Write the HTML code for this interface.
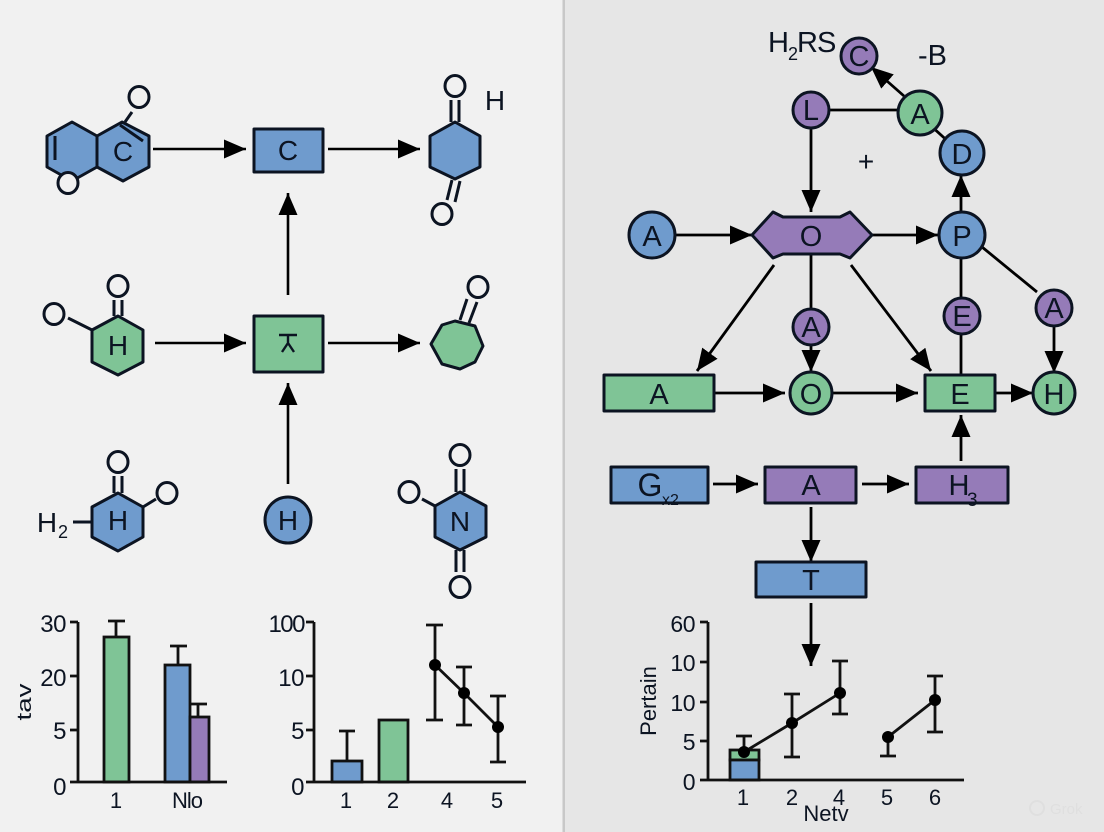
<!DOCTYPE html>
<html><head><meta charset="utf-8"><style>
html,body{margin:0;padding:0;background:#f0f0f0}
svg{display:block}
text{font-family:"Liberation Sans",sans-serif;fill:#0c1422}
</style></head><body>
<svg width="1104" height="832" viewBox="0 0 1104 832" xmlns="http://www.w3.org/2000/svg">
<defs>
<marker id="a" markerUnits="userSpaceOnUse" markerWidth="24" markerHeight="22" refX="22" refY="11" orient="auto"><path d="M0 1.5L22 11L0 20.5Z" fill="#000"/></marker>
</defs>
<rect width="564" height="832" fill="#f1f1f1"/>
<rect x="564" width="540" height="832" fill="#e6e6e6"/>
<rect x="562.5" width="2.5" height="832" fill="#c8c8c8"/>

<!-- molecules left -->
<g stroke="#0c1422" stroke-width="3" stroke-linejoin="round" fill="#6f9bcd">
<path d="M72 122L97 136L97 167L72 181L47 167L47 136Z"/>
<path d="M97 136L122 122L149 136L149 167L123 181L97 167Z"/>
<path d="M455 122L480 136L480 167L455 179L430 167L430 136Z"/>
<path d="M118 493L143 507L143 537L118 551L92 537L92 507Z"/>
<path d="M460 492L486 506L486 537L460 550L435 537L435 506Z"/>
<rect x="254" y="129" width="69" height="43"/>
<circle cx="288" cy="520" r="23"/>
<g fill="#7fc496">
<path d="M118 316L143 330L143 362L118 375L92 362L92 330Z"/>
<rect x="254" y="316" width="69" height="56"/>
<path d="M431 344L442 325L455 321L475 326L483 346L475 362L460 369L442 364Z"/>
</g>
</g>
<g stroke="#0c1422" stroke-width="3" fill="none">
<path d="M55 136V160M120 125L143 141M132 112L125 122"/>
<path d="M451 100V122M459 100V122M447 200L452 180M455 202L460 181"/>
<path d="M114 300V316M122 300V316M68 318L92 330"/>
<path d="M467 299L460 320M477 302L469 323"/>
<path d="M114 476V493M122 476V493M73 522H92M143 507L156 499"/>
<path d="M456 469V492M464 469V492M456 550V572M464 550V572M422 499L435 506"/>
</g>
<g stroke="#0c1422" stroke-width="3" fill="#f1f1f1">
<ellipse cx="139" cy="97" rx="10" ry="10.5"/>
<ellipse cx="68" cy="183" rx="10" ry="10.5" />
<ellipse cx="455" cy="86" rx="10" ry="10.5"/>
<ellipse cx="442" cy="214" rx="10" ry="10.5"/>
<ellipse cx="118" cy="286" rx="10" ry="10.5"/>
<ellipse cx="54" cy="314" rx="10" ry="10.5"/>
<ellipse cx="478" cy="287" rx="10" ry="10.5"/>
<ellipse cx="118" cy="462" rx="10" ry="10.5"/>
<ellipse cx="167" cy="493" rx="10" ry="10.5"/>
<ellipse cx="460" cy="455" rx="10" ry="10.5"/>
<ellipse cx="409" cy="492" rx="10" ry="10.5"/>
<ellipse cx="460" cy="587" rx="10" ry="10.5"/>
</g>
<g font-size="28" text-anchor="middle">
<text x="123" y="161">C</text>
<text x="288" y="160">C</text>
<text x="495" y="110">H</text>
<text x="118" y="355">H</text>
<text x="118" y="530">H</text>
<text x="288" y="530">H</text>
<text x="460" y="531">N</text>
<text x="47" y="532">H</text>
</g>
<text x="58" y="538" font-size="18">2</text>
<path d="M279 335H297M288 335V343M288 343L282 352M288 343L294 352" stroke="#0c1422" stroke-width="2.4" fill="none"/>

<g stroke="#000" stroke-width="2.6" fill="none">
<path d="M153 149H246" marker-end="url(#a)"/>
<path d="M328 149H420" marker-end="url(#a)"/>
<path d="M155 343H246" marker-end="url(#a)"/>
<path d="M328 343H420" marker-end="url(#a)"/>
<path d="M288 295V193" marker-end="url(#a)"/>
<path d="M288 484V383" marker-end="url(#a)"/>
</g>

<!-- chart 1 -->
<g stroke="#111" stroke-width="2.8" fill="none">
<rect x="104" y="637" width="25" height="145" fill="#7fc496"/>
<rect x="165" y="665" width="25" height="117" fill="#6f9bcd"/>
<rect x="190" y="717" width="19" height="65" fill="#957bb8"/>
<path d="M116 637V621M108 621H125M178 665V646M170 646H187M198 717V704M191 704H207"/>
<path d="M78 622V782M70 622H78M70 676H78M70 730H78M70 782H227"/>
</g>
<g font-size="24" text-anchor="end" letter-spacing="-.5">
<text x="66" y="632">30</text><text x="66" y="686">20</text><text x="66" y="739">5</text><text x="66" y="795">0</text>
<text x="304" y="632" letter-spacing="-1.5">100</text><text x="304" y="686">10</text><text x="304" y="739">5</text><text x="304" y="795">0</text>
</g>
<g font-size="22" text-anchor="middle">
<text x="116" y="808">1</text><text x="187" y="808" letter-spacing="-1">Nlo</text>
<text x="346" y="808">1</text><text x="393" y="808">2</text><text x="447" y="808">4</text><text x="497" y="808">5</text>
</g>
<text transform="translate(31,702) rotate(-90)" font-size="20" text-anchor="middle" textLength="37" lengthAdjust="spacingAndGlyphs">tav</text>

<!-- chart 2 -->
<g stroke="#111" stroke-width="2.8" fill="none">
<rect x="332" y="761" width="30" height="21" fill="#6f9bcd"/>
<rect x="379" y="720" width="29" height="62" fill="#7fc496"/>
<path d="M347 761V731M339 731H355"/>
<path d="M314 622V782M306 622H314M306 676H314M306 730H314M306 782H526"/>
<path d="M435 625V720M426 625H443M426 720H443M464 667V725M456 667H472M456 725H472M498 696V762M490 696H506M490 762H506"/>
<path d="M435 665L464 693L498 727"/>
</g>
<g fill="#000"><circle cx="435" cy="665" r="6"/><circle cx="464" cy="693" r="6"/><circle cx="498" cy="727" r="6"/></g>

<!-- right network lines -->
<g stroke="#000" stroke-width="2.8" fill="none">
<path d="M829 110H900M930 125L952 145M811 254V310M961 255V300M961 334V376M982 247L1037 292"/>
<path d="M904 96L871 67" marker-end="url(#a)"/>
<path d="M811 128V212" marker-end="url(#a)"/>
<path d="M675 235H752" marker-end="url(#a)"/>
<path d="M872 235H938" marker-end="url(#a)"/>
<path d="M961 212V175" marker-end="url(#a)"/>
<path d="M774 265L697 371" marker-end="url(#a)"/>
<path d="M851 265L931 371" marker-end="url(#a)"/>
<path d="M811 345V372" marker-end="url(#a)"/>
<path d="M1054 326V373" marker-end="url(#a)"/>
<path d="M714 393H785" marker-end="url(#a)"/>
<path d="M833 393H918" marker-end="url(#a)"/>
<path d="M995 393H1033" marker-end="url(#a)"/>
<path d="M961 461V415" marker-end="url(#a)"/>
<path d="M713 484H758" marker-end="url(#a)"/>
<path d="M862 484H909" marker-end="url(#a)"/>
<path d="M811 507V562" marker-end="url(#a)"/>
<path d="M811 603V666" marker-end="url(#a)"/>
</g>

<g stroke="#0c1422" stroke-width="3" stroke-linejoin="round">
<path fill="#957bb8" d="M752 235L773 212L783 217H840L850 212L872 235L850 258L840 254H783L773 258Z"/>
<g fill="#957bb8">
<circle cx="859" cy="56" r="18"/><circle cx="811" cy="110" r="18"/>
<circle cx="811" cy="327" r="18"/><circle cx="962" cy="316" r="18"/><circle cx="1054" cy="308" r="18"/>
<rect x="765" y="467" width="91" height="36"/><rect x="916" y="467" width="92" height="36"/>
</g>
<g fill="#7fc496">
<circle cx="920" cy="113" r="22"/><circle cx="811" cy="393" r="21"/><circle cx="1054" cy="393" r="21"/>
<rect x="604" y="375" width="110" height="36"/><rect x="925" y="375" width="70" height="36"/>
</g>
<g fill="#6f9bcd">
<circle cx="962" cy="153" r="22"/><circle cx="652" cy="235" r="23"/><circle cx="962" cy="235" r="23"/>
<rect x="611" y="467" width="97" height="36"/><rect x="756" y="562" width="110" height="35"/>
</g>
</g>
<g font-size="29" text-anchor="middle">
<text x="859" y="66">C</text><text x="811" y="120">L</text><text x="920" y="124">A</text><text x="962" y="164">D</text>
<text x="652" y="246">A</text><text x="811" y="246">O</text><text x="962" y="246">P</text>
<text x="811" y="337">A</text><text x="962" y="326">E</text><text x="1054" y="318">A</text>
<text x="659" y="404">A</text><text x="811" y="404">O</text><text x="960" y="404">E</text><text x="1054" y="404">H</text>
<text x="650" y="496" font-size="32">G</text><text x="811" y="495">A</text><text x="959" y="495">H</text><text x="811" y="590">T</text>
</g>
<text x="662" y="505" font-size="16">x2</text>
<text x="967" y="506" font-size="19">3</text>
<text x="768" y="52" font-size="29" letter-spacing="-1">H</text>
<text x="788" y="60" font-size="18">2</text>
<text x="797" y="52" font-size="29" letter-spacing="-1">RS</text>
<text x="918" y="65" font-size="29">-B</text>
<text x="866" y="171" font-size="28" text-anchor="middle">+</text>

<!-- chart 3 -->
<g stroke="#111" stroke-width="2.8" fill="none">
<rect x="730" y="750" width="29" height="10" fill="#7fc496"/>
<rect x="730" y="760" width="29" height="20" fill="#6f9bcd"/>
<path d="M708 622V780M700 622H708M700 662H708M700 702H708M700 741H708M700 780H964"/>
<path d="M744 736V752M736 736H752M792 694V757M784 694H800M784 757H800M840 661V714M832 661H848M832 714H848M888 737V756M880 756H896M935 676V732M927 676H943M927 732H943"/>
<path d="M744 752L792 723L840 693M888 737L935 700"/>
</g>
<g fill="#000"><circle cx="744" cy="752" r="6"/><circle cx="792" cy="723" r="6"/><circle cx="840" cy="693" r="6"/><circle cx="888" cy="737" r="6"/><circle cx="935" cy="700" r="6"/></g>
<g font-size="23" text-anchor="end" letter-spacing="-.5">
<text x="695" y="632">60</text><text x="695" y="671">10</text><text x="695" y="711">10</text><text x="695" y="750">5</text><text x="695" y="790">0</text>
</g>
<g font-size="22" text-anchor="middle">
<text x="743" y="805">1</text><text x="792" y="805">2</text><text x="839" y="805">4</text><text x="887" y="805">5</text><text x="935" y="805">6</text>
<text x="826" y="821">Netv</text>
</g>
<text transform="translate(656,701) rotate(-90)" font-size="22" text-anchor="middle">Pertain</text>
<text x="1050" y="814" font-size="15" style="fill:#dfdfdf">Grok</text>
<circle cx="1037" cy="808" r="7" fill="none" stroke="#dfdfdf" stroke-width="2"/>
</svg>
</body></html>
